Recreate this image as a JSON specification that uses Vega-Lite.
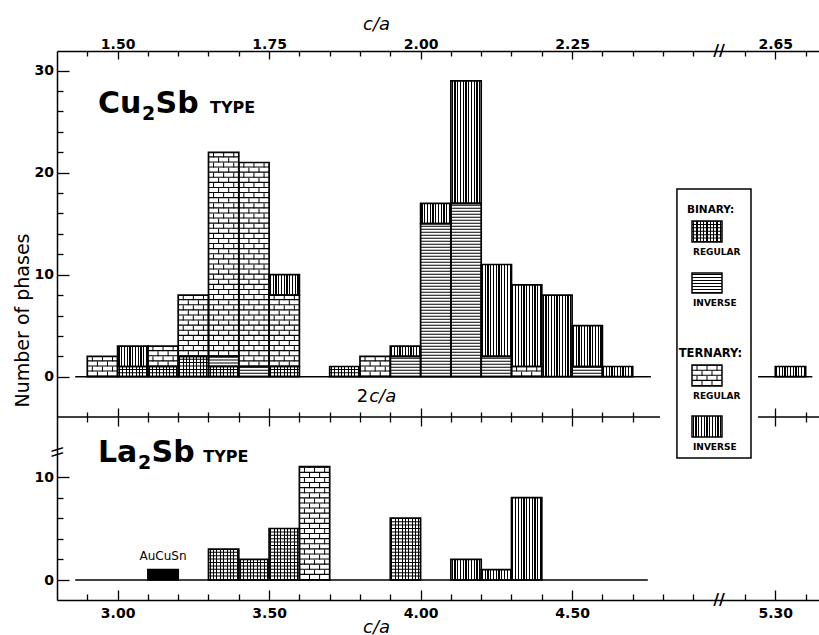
{
"$schema":"https://vega.github.io/schema/vega-lite/v6.json",
"autosize":{"type":"none"},
"padding":{"left":57,"top":51,"right":0,"bottom":35},
"width":762,"height":549,
"background":"white",
"config":{"view":{"stroke":null},"mark":{"color":"black"},"text":{"font":"DejaVu Sans","color":"black"},
"axis":{"labelFont":"DejaVu Sans","labelFontWeight":"bold","labelFontSize":14,"labelColor":"black","domainColor":"black","domainWidth":1.5,"tickColor":"black","tickWidth":1.3,"grid":false,"titleColor":"black"}},
"datasets":{
"one":[{"k":1}],
"phases":[
{"panel":"Cu2Sb","lo":2.9,"hi":3.0,"type":"ternary","form":"regular","n":2},
{"panel":"Cu2Sb","lo":3.0,"hi":3.1,"type":"binary","form":"regular","n":1},
{"panel":"Cu2Sb","lo":3.0,"hi":3.1,"type":"ternary","form":"inverse","n":2},
{"panel":"Cu2Sb","lo":3.1,"hi":3.2,"type":"binary","form":"regular","n":1},
{"panel":"Cu2Sb","lo":3.1,"hi":3.2,"type":"ternary","form":"regular","n":2},
{"panel":"Cu2Sb","lo":3.2,"hi":3.3,"type":"binary","form":"regular","n":2},
{"panel":"Cu2Sb","lo":3.2,"hi":3.3,"type":"ternary","form":"regular","n":6},
{"panel":"Cu2Sb","lo":3.3,"hi":3.4,"type":"binary","form":"regular","n":1},
{"panel":"Cu2Sb","lo":3.3,"hi":3.4,"type":"binary","form":"inverse","n":1},
{"panel":"Cu2Sb","lo":3.3,"hi":3.4,"type":"ternary","form":"regular","n":20},
{"panel":"Cu2Sb","lo":3.4,"hi":3.5,"type":"binary","form":"inverse","n":1},
{"panel":"Cu2Sb","lo":3.4,"hi":3.5,"type":"ternary","form":"regular","n":20},
{"panel":"Cu2Sb","lo":3.5,"hi":3.6,"type":"binary","form":"regular","n":1},
{"panel":"Cu2Sb","lo":3.5,"hi":3.6,"type":"ternary","form":"regular","n":7},
{"panel":"Cu2Sb","lo":3.5,"hi":3.6,"type":"ternary","form":"inverse","n":2},
{"panel":"Cu2Sb","lo":3.7,"hi":3.8,"type":"binary","form":"regular","n":1},
{"panel":"Cu2Sb","lo":3.8,"hi":3.9,"type":"ternary","form":"regular","n":2},
{"panel":"Cu2Sb","lo":3.9,"hi":4.0,"type":"binary","form":"inverse","n":2},
{"panel":"Cu2Sb","lo":3.9,"hi":4.0,"type":"ternary","form":"inverse","n":1},
{"panel":"Cu2Sb","lo":4.0,"hi":4.1,"type":"binary","form":"inverse","n":15},
{"panel":"Cu2Sb","lo":4.0,"hi":4.1,"type":"ternary","form":"inverse","n":2},
{"panel":"Cu2Sb","lo":4.1,"hi":4.2,"type":"binary","form":"inverse","n":17},
{"panel":"Cu2Sb","lo":4.1,"hi":4.2,"type":"ternary","form":"inverse","n":12},
{"panel":"Cu2Sb","lo":4.2,"hi":4.3,"type":"binary","form":"inverse","n":2},
{"panel":"Cu2Sb","lo":4.2,"hi":4.3,"type":"ternary","form":"inverse","n":9},
{"panel":"Cu2Sb","lo":4.3,"hi":4.4,"type":"ternary","form":"regular","n":1},
{"panel":"Cu2Sb","lo":4.3,"hi":4.4,"type":"ternary","form":"inverse","n":8},
{"panel":"Cu2Sb","lo":4.4,"hi":4.5,"type":"ternary","form":"inverse","n":8},
{"panel":"Cu2Sb","lo":4.5,"hi":4.6,"type":"binary","form":"inverse","n":1},
{"panel":"Cu2Sb","lo":4.5,"hi":4.6,"type":"ternary","form":"inverse","n":4},
{"panel":"Cu2Sb","lo":4.6,"hi":4.7,"type":"ternary","form":"inverse","n":1},
{"panel":"Cu2Sb","lo":5.3,"hi":5.4,"type":"ternary","form":"inverse","n":1},
{"panel":"La2Sb","lo":3.1,"hi":3.2,"type":"AuCuSn","form":"","n":1},
{"panel":"La2Sb","lo":3.3,"hi":3.4,"type":"binary","form":"regular","n":3},
{"panel":"La2Sb","lo":3.4,"hi":3.5,"type":"binary","form":"regular","n":2},
{"panel":"La2Sb","lo":3.5,"hi":3.6,"type":"binary","form":"regular","n":5},
{"panel":"La2Sb","lo":3.6,"hi":3.7,"type":"ternary","form":"regular","n":11},
{"panel":"La2Sb","lo":3.9,"hi":4.0,"type":"binary","form":"regular","n":6},
{"panel":"La2Sb","lo":4.1,"hi":4.2,"type":"ternary","form":"inverse","n":2},
{"panel":"La2Sb","lo":4.2,"hi":4.3,"type":"ternary","form":"inverse","n":1},
{"panel":"La2Sb","lo":4.3,"hi":4.4,"type":"ternary","form":"inverse","n":8}
]},
"resolve":{"scale":{"y":"independent"},"axis":{"x":"independent","y":"independent"}},
"layer":[
{
"resolve":{"axis":{"x":"independent","y":"independent"}},
"layer":[
{
"data":{"name":"phases"},
"transform":[{"filter":"datum.panel === 'Cu2Sb'"},{"stack":"n","groupby":["lo"],"sort":[{"field":"type","order":"ascending"},{"field":"form","order":"descending"}],"as":["y0","y1"]}],
"encoding":{
"x":{"field":"lo","type":"quantitative","scale":{"domain":[2.8,4.9,5.2,5.444],"range":[0,636.3,688,762],"nice":false,"zero":false},"axis":null},
"y":{"field":"y0","type":"quantitative","scale":{"domain":[-21.89,31.93],"nice":false,"zero":false},"axis":null}
},
"layer":[
{"transform":[{"filter":"datum.type === 'ternary' && datum.form === 'inverse'"}],"mark":{"type":"rect","fill":{"gradient":"linear","x1":0,"y1":0,"x2":1,"y2":0,"stops":[{"offset":0,"color":"#fff"},{"offset":0.0255,"color":"#fff"},{"offset":0.0255,"color":"#000"},{"offset":0.0655,"color":"#000"},{"offset":0.0655,"color":"#fff"},{"offset":0.1164,"color":"#fff"},{"offset":0.1164,"color":"#000"},{"offset":0.1564,"color":"#000"},{"offset":0.1564,"color":"#fff"},{"offset":0.2073,"color":"#fff"},{"offset":0.2073,"color":"#000"},{"offset":0.2473,"color":"#000"},{"offset":0.2473,"color":"#fff"},{"offset":0.2982,"color":"#fff"},{"offset":0.2982,"color":"#000"},{"offset":0.3382,"color":"#000"},{"offset":0.3382,"color":"#fff"},{"offset":0.3891,"color":"#fff"},{"offset":0.3891,"color":"#000"},{"offset":0.4291,"color":"#000"},{"offset":0.4291,"color":"#fff"},{"offset":0.48,"color":"#fff"},{"offset":0.48,"color":"#000"},{"offset":0.52,"color":"#000"},{"offset":0.52,"color":"#fff"},{"offset":0.5709,"color":"#fff"},{"offset":0.5709,"color":"#000"},{"offset":0.6109,"color":"#000"},{"offset":0.6109,"color":"#fff"},{"offset":0.6618,"color":"#fff"},{"offset":0.6618,"color":"#000"},{"offset":0.7018,"color":"#000"},{"offset":0.7018,"color":"#fff"},{"offset":0.7527,"color":"#fff"},{"offset":0.7527,"color":"#000"},{"offset":0.7927,"color":"#000"},{"offset":0.7927,"color":"#fff"},{"offset":0.8436,"color":"#fff"},{"offset":0.8436,"color":"#000"},{"offset":0.8836,"color":"#000"},{"offset":0.8836,"color":"#fff"},{"offset":0.9345,"color":"#fff"},{"offset":0.9345,"color":"#000"},{"offset":0.9745,"color":"#000"},{"offset":0.9745,"color":"#fff"},{"offset":1,"color":"#fff"}]}},"encoding":{"x2":{"field":"hi"},"y2":{"field":"y1"}}},
{"transform":[{"filter":"datum.type === 'binary' && datum.form === 'regular'"}],"mark":{"type":"rect","fill":{"gradient":"linear","x1":0,"y1":0,"x2":1,"y2":0,"stops":[{"offset":0,"color":"#fff"},{"offset":0.0386,"color":"#fff"},{"offset":0.0386,"color":"#000"},{"offset":0.0726,"color":"#000"},{"offset":0.0726,"color":"#fff"},{"offset":0.1497,"color":"#fff"},{"offset":0.1497,"color":"#000"},{"offset":0.1837,"color":"#000"},{"offset":0.1837,"color":"#fff"},{"offset":0.2608,"color":"#fff"},{"offset":0.2608,"color":"#000"},{"offset":0.2948,"color":"#000"},{"offset":0.2948,"color":"#fff"},{"offset":0.3719,"color":"#fff"},{"offset":0.3719,"color":"#000"},{"offset":0.4059,"color":"#000"},{"offset":0.4059,"color":"#fff"},{"offset":0.483,"color":"#fff"},{"offset":0.483,"color":"#000"},{"offset":0.517,"color":"#000"},{"offset":0.517,"color":"#fff"},{"offset":0.5941,"color":"#fff"},{"offset":0.5941,"color":"#000"},{"offset":0.6281,"color":"#000"},{"offset":0.6281,"color":"#fff"},{"offset":0.7052,"color":"#fff"},{"offset":0.7052,"color":"#000"},{"offset":0.7392,"color":"#000"},{"offset":0.7392,"color":"#fff"},{"offset":0.8163,"color":"#fff"},{"offset":0.8163,"color":"#000"},{"offset":0.8503,"color":"#000"},{"offset":0.8503,"color":"#fff"},{"offset":0.9274,"color":"#fff"},{"offset":0.9274,"color":"#000"},{"offset":0.9614,"color":"#000"},{"offset":0.9614,"color":"#fff"},{"offset":1,"color":"#fff"}]}},"encoding":{"x2":{"field":"hi"},"y2":{"field":"y1"}}},
{"transform":[{"filter":"datum.type === 'binary' && datum.form === 'regular'"}],"mark":{"type":"rule","color":"black","strokeWidth":30.3,"xOffset":15.15,"strokeDash":[1,2.4]},"encoding":{"y2":{"field":"y1"}}},
{"transform":[{"filter":"datum.type === 'binary' && datum.form === 'inverse'"}],"mark":{"type":"rule","color":"black","strokeWidth":30.3,"xOffset":15.15,"strokeDash":[1,2]},"encoding":{"y2":{"field":"y1"}}},
{"transform":[{"filter":"datum.type === 'ternary' && datum.form === 'regular'"}],"mark":{"type":"rule","color":"black","strokeWidth":30.3,"xOffset":15.15,"strokeDash":[1.1,4]},"encoding":{"y2":{"field":"y1"}}},
{"transform":[{"filter":"datum.type === 'ternary' && datum.form === 'regular'"}],"mark":{"type":"rule","color":"black","strokeWidth":1,"xOffset":10.1,"strokeDash":[5.1,5.1]},"encoding":{"y2":{"field":"y1"}}},
{"transform":[{"filter":"datum.type === 'ternary' && datum.form === 'regular'"}],"mark":{"type":"rule","color":"black","strokeWidth":1,"xOffset":20.2,"strokeDash":[5.1,5.1]},"encoding":{"y2":{"field":"y1"}}},
{"transform":[{"filter":"datum.type === 'ternary' && datum.form === 'regular'"}],"mark":{"type":"rule","color":"black","strokeWidth":1,"xOffset":5.05,"strokeDash":[5.1,5.1],"strokeDashOffset":5.1},"encoding":{"y2":{"field":"y1"}}},
{"transform":[{"filter":"datum.type === 'ternary' && datum.form === 'regular'"}],"mark":{"type":"rule","color":"black","strokeWidth":1,"xOffset":15.15,"strokeDash":[5.1,5.1],"strokeDashOffset":5.1},"encoding":{"y2":{"field":"y1"}}},
{"transform":[{"filter":"datum.type === 'ternary' && datum.form === 'regular'"}],"mark":{"type":"rule","color":"black","strokeWidth":1,"xOffset":25.25,"strokeDash":[5.1,5.1],"strokeDashOffset":5.1},"encoding":{"y2":{"field":"y1"}}},
{"mark":{"type":"rect","filled":false,"stroke":"black","strokeWidth":1.7},"encoding":{"x2":{"field":"hi"},"y2":{"field":"y1"}}}
]
},
{"data":{"name":"one"},"mark":{"type":"rule","strokeWidth":1.5},"encoding":{
"x":{"datum":2.86,"type":"quantitative","scale":{"domain":[2.8,4.9,5.2,5.444],"range":[0,636.3,688,762],"nice":false,"zero":false},"axis":{"orient":"top","values":[2.9,3,3.1,3.2,3.3,3.4,3.5,3.6,3.7,3.8,3.9,4,4.1,4.2,4.3,4.4,4.5,4.6,4.7,4.8,4.9,5.2,5.3,5.4],"labelExpr":"indexof([3,3.5,4,4.5,5.3], datum.value) >= 0 ? format(datum.value / 2, '.2f') : ''","tickSize":{"condition":{"test":"indexof([3,3.5,4,4.5,5.3], datum.value) >= 0","value":-8},"value":-5},"labelBaseline":"alphabetic","labelPadding":10.4,"labelFlush":false,"labelOverlap":false,"labelBound":false,"title":"c/a","titleFont":"DejaVu Sans","titleFontStyle":"italic","titleFontWeight":"normal","titleFontSize":18,"titleX":319,"titleY":-22,"titleAlign":"center","titleBaseline":"alphabetic","titleAngle":0}},
"x2":{"datum":4.76},
"y":{"datum":0,"type":"quantitative","scale":{"domain":[-21.89,31.93],"nice":false,"zero":false},"axis":{"orient":"left","values":[0,2,4,6,8,10,12,14,16,18,20,22,24,26,28,30],"labelExpr":"datum.value % 10 === 0 ? datum.label : ''","tickSize":{"condition":{"test":"datum.value % 10 === 0","value":-12},"value":-6},"labelPadding":15.4,"title":"Number of phases","titleFont":"DejaVu Sans","titleFontWeight":"normal","titleFontSize":19,"titleX":-29,"titleY":269,"titleAngle":-90,"titleAlign":"center","titleBaseline":"alphabetic"}}}},
{"data":{"name":"one"},"mark":{"type":"rule","strokeWidth":1.5},"encoding":{"x":{"datum":5.243,"axis":null},"x2":{"datum":5.422},"y":{"datum":0,"axis":null}}},
{"data":{"name":"one"},"mark":{"type":"rule","strokeWidth":1.5},"encoding":{
"x":{"datum":2.8,"type":"quantitative","axis":{"orient":"bottom","offset":-183,"values":[2.9,3,3.1,3.2,3.3,3.4,3.5,3.6,3.7,3.8,3.9,4,4.1,4.2,4.3,4.4,4.5,4.6,4.7,5.3,5.4],"labels":false,"domain":false,"tickSize":{"condition":{"test":"indexof([3,3.5,4,4.5,5.3], datum.value) >= 0","value":-9},"value":-5},"title":null}},
"x2":{"datum":4.79},"y":{"datum":-3.95,"axis":null}}},
{"data":{"name":"one"},"mark":{"type":"rule","strokeWidth":1.5},"encoding":{"x":{"datum":5.243,"axis":null},"x2":{"datum":5.444},"y":{"datum":-3.95,"axis":null}}},
{"data":{"name":"one"},"mark":{"type":"text","text":"Cu","fontWeight":"bold","fontSize":30,"align":"left","baseline":"alphabetic"},"encoding":{"x":{"datum":2.9353,"axis":null},"y":{"datum":25.9,"axis":null}}},
{"data":{"name":"one"},"mark":{"type":"text","text":"2","fontWeight":"bold","fontSize":19,"align":"left","baseline":"alphabetic","dx":44,"dy":7},"encoding":{"x":{"datum":2.9353,"axis":null},"y":{"datum":25.9,"axis":null}}},
{"data":{"name":"one"},"mark":{"type":"text","text":"Sb","fontWeight":"bold","fontSize":30,"align":"left","baseline":"alphabetic","dx":57.6},"encoding":{"x":{"datum":2.9353,"axis":null},"y":{"datum":25.9,"axis":null}}},
{"data":{"name":"one"},"mark":{"type":"text","text":"TYPE","fontWeight":"bold","fontSize":16,"align":"left","baseline":"alphabetic"},"encoding":{"x":{"datum":3.305,"axis":null},"y":{"datum":25.9,"axis":null}}},
{"data":{"name":"one"},"mark":{"type":"text","text":"2","fontSize":18,"align":"right","baseline":"alphabetic"},"encoding":{"x":{"datum":3.827,"axis":null},"y":{"datum":-2.48,"axis":null}}},
{"data":{"name":"one"},"mark":{"type":"text","text":"c/a","fontStyle":"italic","fontSize":18,"align":"left","baseline":"alphabetic","dx":1},"encoding":{"x":{"datum":3.827,"axis":null},"y":{"datum":-2.48,"axis":null}}},
{"data":{"name":"one"},"mark":{"type":"text","text":"//","fontWeight":"bold","fontSize":16,"align":"center","baseline":"middle"},"encoding":{"x":{"datum":5.049,"axis":null},"y":{"datum":31.93,"axis":null}}}
]
},
{
"resolve":{"axis":{"x":"independent","y":"independent"}},
"layer":[
{
"data":{"name":"phases"},
"transform":[{"filter":"datum.panel === 'La2Sb'"},{"stack":"n","groupby":["lo"],"sort":[{"field":"type","order":"ascending"},{"field":"form","order":"descending"}],"as":["y0","y1"]}],
"encoding":{
"x":{"field":"lo","type":"quantitative","scale":{"domain":[2.8,4.9,5.2,5.444],"range":[0,636.3,688,762],"nice":false,"zero":false},"axis":null},
"y":{"field":"y0","type":"quantitative","scale":{"domain":[-1.94,51.36],"nice":false,"zero":false},"axis":null}
},
"layer":[
{"transform":[{"filter":"datum.type === 'ternary' && datum.form === 'inverse'"}],"mark":{"type":"rect","fill":{"gradient":"linear","x1":0,"y1":0,"x2":1,"y2":0,"stops":[{"offset":0,"color":"#fff"},{"offset":0.0255,"color":"#fff"},{"offset":0.0255,"color":"#000"},{"offset":0.0655,"color":"#000"},{"offset":0.0655,"color":"#fff"},{"offset":0.1164,"color":"#fff"},{"offset":0.1164,"color":"#000"},{"offset":0.1564,"color":"#000"},{"offset":0.1564,"color":"#fff"},{"offset":0.2073,"color":"#fff"},{"offset":0.2073,"color":"#000"},{"offset":0.2473,"color":"#000"},{"offset":0.2473,"color":"#fff"},{"offset":0.2982,"color":"#fff"},{"offset":0.2982,"color":"#000"},{"offset":0.3382,"color":"#000"},{"offset":0.3382,"color":"#fff"},{"offset":0.3891,"color":"#fff"},{"offset":0.3891,"color":"#000"},{"offset":0.4291,"color":"#000"},{"offset":0.4291,"color":"#fff"},{"offset":0.48,"color":"#fff"},{"offset":0.48,"color":"#000"},{"offset":0.52,"color":"#000"},{"offset":0.52,"color":"#fff"},{"offset":0.5709,"color":"#fff"},{"offset":0.5709,"color":"#000"},{"offset":0.6109,"color":"#000"},{"offset":0.6109,"color":"#fff"},{"offset":0.6618,"color":"#fff"},{"offset":0.6618,"color":"#000"},{"offset":0.7018,"color":"#000"},{"offset":0.7018,"color":"#fff"},{"offset":0.7527,"color":"#fff"},{"offset":0.7527,"color":"#000"},{"offset":0.7927,"color":"#000"},{"offset":0.7927,"color":"#fff"},{"offset":0.8436,"color":"#fff"},{"offset":0.8436,"color":"#000"},{"offset":0.8836,"color":"#000"},{"offset":0.8836,"color":"#fff"},{"offset":0.9345,"color":"#fff"},{"offset":0.9345,"color":"#000"},{"offset":0.9745,"color":"#000"},{"offset":0.9745,"color":"#fff"},{"offset":1,"color":"#fff"}]}},"encoding":{"x2":{"field":"hi"},"y2":{"field":"y1"}}},
{"transform":[{"filter":"datum.type === 'binary' && datum.form === 'regular'"}],"mark":{"type":"rect","fill":{"gradient":"linear","x1":0,"y1":0,"x2":1,"y2":0,"stops":[{"offset":0,"color":"#fff"},{"offset":0.0386,"color":"#fff"},{"offset":0.0386,"color":"#000"},{"offset":0.0726,"color":"#000"},{"offset":0.0726,"color":"#fff"},{"offset":0.1497,"color":"#fff"},{"offset":0.1497,"color":"#000"},{"offset":0.1837,"color":"#000"},{"offset":0.1837,"color":"#fff"},{"offset":0.2608,"color":"#fff"},{"offset":0.2608,"color":"#000"},{"offset":0.2948,"color":"#000"},{"offset":0.2948,"color":"#fff"},{"offset":0.3719,"color":"#fff"},{"offset":0.3719,"color":"#000"},{"offset":0.4059,"color":"#000"},{"offset":0.4059,"color":"#fff"},{"offset":0.483,"color":"#fff"},{"offset":0.483,"color":"#000"},{"offset":0.517,"color":"#000"},{"offset":0.517,"color":"#fff"},{"offset":0.5941,"color":"#fff"},{"offset":0.5941,"color":"#000"},{"offset":0.6281,"color":"#000"},{"offset":0.6281,"color":"#fff"},{"offset":0.7052,"color":"#fff"},{"offset":0.7052,"color":"#000"},{"offset":0.7392,"color":"#000"},{"offset":0.7392,"color":"#fff"},{"offset":0.8163,"color":"#fff"},{"offset":0.8163,"color":"#000"},{"offset":0.8503,"color":"#000"},{"offset":0.8503,"color":"#fff"},{"offset":0.9274,"color":"#fff"},{"offset":0.9274,"color":"#000"},{"offset":0.9614,"color":"#000"},{"offset":0.9614,"color":"#fff"},{"offset":1,"color":"#fff"}]}},"encoding":{"x2":{"field":"hi"},"y2":{"field":"y1"}}},
{"transform":[{"filter":"datum.type === 'binary' && datum.form === 'regular'"}],"mark":{"type":"rule","color":"black","strokeWidth":30.3,"xOffset":15.15,"strokeDash":[1,2.4]},"encoding":{"y2":{"field":"y1"}}},
{"transform":[{"filter":"datum.type === 'ternary' && datum.form === 'regular'"}],"mark":{"type":"rule","color":"black","strokeWidth":30.3,"xOffset":15.15,"strokeDash":[1.1,4]},"encoding":{"y2":{"field":"y1"}}},
{"transform":[{"filter":"datum.type === 'ternary' && datum.form === 'regular'"}],"mark":{"type":"rule","color":"black","strokeWidth":1,"xOffset":10.1,"strokeDash":[5.1,5.1]},"encoding":{"y2":{"field":"y1"}}},
{"transform":[{"filter":"datum.type === 'ternary' && datum.form === 'regular'"}],"mark":{"type":"rule","color":"black","strokeWidth":1,"xOffset":20.2,"strokeDash":[5.1,5.1]},"encoding":{"y2":{"field":"y1"}}},
{"transform":[{"filter":"datum.type === 'ternary' && datum.form === 'regular'"}],"mark":{"type":"rule","color":"black","strokeWidth":1,"xOffset":5.05,"strokeDash":[5.1,5.1],"strokeDashOffset":5.1},"encoding":{"y2":{"field":"y1"}}},
{"transform":[{"filter":"datum.type === 'ternary' && datum.form === 'regular'"}],"mark":{"type":"rule","color":"black","strokeWidth":1,"xOffset":15.15,"strokeDash":[5.1,5.1],"strokeDashOffset":5.1},"encoding":{"y2":{"field":"y1"}}},
{"transform":[{"filter":"datum.type === 'ternary' && datum.form === 'regular'"}],"mark":{"type":"rule","color":"black","strokeWidth":1,"xOffset":25.25,"strokeDash":[5.1,5.1],"strokeDashOffset":5.1},"encoding":{"y2":{"field":"y1"}}},
{"transform":[{"filter":"datum.type === 'AuCuSn'"}],"mark":{"type":"rect","fill":"black"},"encoding":{"x2":{"field":"hi"},"y2":{"field":"y1"}}},
{"mark":{"type":"rect","filled":false,"stroke":"black","strokeWidth":1.7},"encoding":{"x2":{"field":"hi"},"y2":{"field":"y1"}}}
]
},
{"data":{"name":"one"},"mark":{"type":"rule","strokeWidth":1.5},"encoding":{
"x":{"datum":2.86,"type":"quantitative","scale":{"domain":[2.8,4.9,5.2,5.444],"range":[0,636.3,688,762],"nice":false,"zero":false},"axis":{"orient":"bottom","values":[2.9,3,3.1,3.2,3.3,3.4,3.5,3.6,3.7,3.8,3.9,4,4.1,4.2,4.3,4.4,4.5,4.6,4.7,4.8,4.9,5.2,5.3,5.4],"labelExpr":"indexof([3,3.5,4,4.5,5.3], datum.value) >= 0 ? format(datum.value, '.2f') : ''","tickSize":{"condition":{"test":"indexof([3,3.5,4,4.5,5.3], datum.value) >= 0","value":-10},"value":-6},"labelPadding":16,"labelFlush":false,"labelOverlap":false,"labelBound":false,"title":"c/a","titleFont":"DejaVu Sans","titleFontStyle":"italic","titleFontWeight":"normal","titleFontSize":18,"titleX":319,"titleY":32,"titleAlign":"center","titleBaseline":"alphabetic"}},
"x2":{"datum":4.75},
"y":{"datum":0,"type":"quantitative","scale":{"domain":[-1.94,51.36],"nice":false,"zero":false},"axis":{"orient":"left","values":[0,2,4,6,8,10],"domain":false,"labelExpr":"datum.value % 10 === 0 ? datum.label : ''","tickSize":{"condition":{"test":"datum.value % 10 === 0","value":-12},"value":-6},"labelPadding":15.4,"title":null}}}},
{"data":{"name":"one"},"mark":{"type":"rect","fill":"white","stroke":"black","strokeWidth":1.5},"encoding":{
"x":{"datum":4.846,"type":"quantitative","axis":{"orient":"bottom","offset":-183,"values":[2.9,3,3.1,3.2,3.3,3.4,3.5,3.6,3.7,3.8,3.9,4,4.1,4.2,4.3,4.4,4.5,4.6,4.7,5.3,5.4],"labels":false,"domain":false,"tickSize":{"condition":{"test":"indexof([3,3.5,4,4.5,5.3], datum.value) >= 0","value":9},"value":5},"title":null}},
"x2":{"datum":5.2198},"y":{"datum":37.96,"axis":null},"y2":{"datum":11.84}}},
{"data":{"name":"one"},"mark":{"type":"rect","fill":{"gradient":"linear","x1":0,"y1":0,"x2":1,"y2":0,"stops":[{"offset":0,"color":"#fff"},{"offset":0.0386,"color":"#fff"},{"offset":0.0386,"color":"#000"},{"offset":0.0726,"color":"#000"},{"offset":0.0726,"color":"#fff"},{"offset":0.1497,"color":"#fff"},{"offset":0.1497,"color":"#000"},{"offset":0.1837,"color":"#000"},{"offset":0.1837,"color":"#fff"},{"offset":0.2608,"color":"#fff"},{"offset":0.2608,"color":"#000"},{"offset":0.2948,"color":"#000"},{"offset":0.2948,"color":"#fff"},{"offset":0.3719,"color":"#fff"},{"offset":0.3719,"color":"#000"},{"offset":0.4059,"color":"#000"},{"offset":0.4059,"color":"#fff"},{"offset":0.483,"color":"#fff"},{"offset":0.483,"color":"#000"},{"offset":0.517,"color":"#000"},{"offset":0.517,"color":"#fff"},{"offset":0.5941,"color":"#fff"},{"offset":0.5941,"color":"#000"},{"offset":0.6281,"color":"#000"},{"offset":0.6281,"color":"#fff"},{"offset":0.7052,"color":"#fff"},{"offset":0.7052,"color":"#000"},{"offset":0.7392,"color":"#000"},{"offset":0.7392,"color":"#fff"},{"offset":0.8163,"color":"#fff"},{"offset":0.8163,"color":"#000"},{"offset":0.8503,"color":"#000"},{"offset":0.8503,"color":"#fff"},{"offset":0.9274,"color":"#fff"},{"offset":0.9274,"color":"#000"},{"offset":0.9614,"color":"#000"},{"offset":0.9614,"color":"#fff"},{"offset":1,"color":"#fff"}]}},"encoding":{"x":{"datum":4.8957,"axis":null},"x2":{"datum":5.0665},"y":{"datum":32.82,"axis":null},"y2":{"datum":34.85}}},
{"data":{"name":"one"},"mark":{"type":"rule","color":"black","strokeWidth":30,"xOffset":15,"strokeDash":[1,2.4]},"encoding":{"x":{"datum":4.8957,"axis":null},"y":{"datum":32.82,"axis":null},"y2":{"datum":34.85}}},
{"data":{"name":"one"},"mark":{"type":"rule","color":"black","strokeWidth":30,"xOffset":15,"strokeDash":[1,2]},"encoding":{"x":{"datum":4.8957,"axis":null},"y":{"datum":27.86,"axis":null},"y2":{"datum":29.81}}},
{"data":{"name":"one"},"mark":{"type":"rule","color":"black","strokeWidth":30,"xOffset":15,"strokeDash":[1.1,4]},"encoding":{"x":{"datum":4.8957,"axis":null},"y":{"datum":18.83,"axis":null},"y2":{"datum":20.87}}},
{"data":{"name":"one"},"mark":{"type":"rule","color":"black","strokeWidth":1,"xOffset":10,"strokeDash":[5.1,5.1]},"encoding":{"x":{"datum":4.8957,"axis":null},"y":{"datum":18.83,"axis":null},"y2":{"datum":20.87}}},
{"data":{"name":"one"},"mark":{"type":"rule","color":"black","strokeWidth":1,"xOffset":20,"strokeDash":[5.1,5.1]},"encoding":{"x":{"datum":4.8957,"axis":null},"y":{"datum":18.83,"axis":null},"y2":{"datum":20.87}}},
{"data":{"name":"one"},"mark":{"type":"rule","color":"black","strokeWidth":1,"xOffset":5,"strokeDash":[5.1,5.1],"strokeDashOffset":5.1},"encoding":{"x":{"datum":4.8957,"axis":null},"y":{"datum":18.83,"axis":null},"y2":{"datum":20.87}}},
{"data":{"name":"one"},"mark":{"type":"rule","color":"black","strokeWidth":1,"xOffset":15,"strokeDash":[5.1,5.1],"strokeDashOffset":5.1},"encoding":{"x":{"datum":4.8957,"axis":null},"y":{"datum":18.83,"axis":null},"y2":{"datum":20.87}}},
{"data":{"name":"one"},"mark":{"type":"rule","color":"black","strokeWidth":1,"xOffset":25,"strokeDash":[5.1,5.1],"strokeDashOffset":5.1},"encoding":{"x":{"datum":4.8957,"axis":null},"y":{"datum":18.83,"axis":null},"y2":{"datum":20.87}}},
{"data":{"name":"one"},"mark":{"type":"rect","fill":{"gradient":"linear","x1":0,"y1":0,"x2":1,"y2":0,"stops":[{"offset":0,"color":"#fff"},{"offset":0.0255,"color":"#fff"},{"offset":0.0255,"color":"#000"},{"offset":0.0655,"color":"#000"},{"offset":0.0655,"color":"#fff"},{"offset":0.1164,"color":"#fff"},{"offset":0.1164,"color":"#000"},{"offset":0.1564,"color":"#000"},{"offset":0.1564,"color":"#fff"},{"offset":0.2073,"color":"#fff"},{"offset":0.2073,"color":"#000"},{"offset":0.2473,"color":"#000"},{"offset":0.2473,"color":"#fff"},{"offset":0.2982,"color":"#fff"},{"offset":0.2982,"color":"#000"},{"offset":0.3382,"color":"#000"},{"offset":0.3382,"color":"#fff"},{"offset":0.3891,"color":"#fff"},{"offset":0.3891,"color":"#000"},{"offset":0.4291,"color":"#000"},{"offset":0.4291,"color":"#fff"},{"offset":0.48,"color":"#fff"},{"offset":0.48,"color":"#000"},{"offset":0.52,"color":"#000"},{"offset":0.52,"color":"#fff"},{"offset":0.5709,"color":"#fff"},{"offset":0.5709,"color":"#000"},{"offset":0.6109,"color":"#000"},{"offset":0.6109,"color":"#fff"},{"offset":0.6618,"color":"#fff"},{"offset":0.6618,"color":"#000"},{"offset":0.7018,"color":"#000"},{"offset":0.7018,"color":"#fff"},{"offset":0.7527,"color":"#fff"},{"offset":0.7527,"color":"#000"},{"offset":0.7927,"color":"#000"},{"offset":0.7927,"color":"#fff"},{"offset":0.8436,"color":"#fff"},{"offset":0.8436,"color":"#000"},{"offset":0.8836,"color":"#000"},{"offset":0.8836,"color":"#fff"},{"offset":0.9345,"color":"#fff"},{"offset":0.9345,"color":"#000"},{"offset":0.9745,"color":"#000"},{"offset":0.9745,"color":"#fff"},{"offset":1,"color":"#fff"}]}},"encoding":{"x":{"datum":4.8957,"axis":null},"x2":{"datum":5.0665},"y":{"datum":13.88,"axis":null},"y2":{"datum":15.92}}},
{"data":{"name":"one"},"mark":{"type":"rect","filled":false,"stroke":"black","strokeWidth":1.5},"encoding":{"x":{"datum":4.8957,"axis":null},"x2":{"datum":5.0665},"y":{"datum":32.82,"axis":null},"y2":{"datum":34.85}}},
{"data":{"name":"one"},"mark":{"type":"rect","filled":false,"stroke":"black","strokeWidth":1.5},"encoding":{"x":{"datum":4.8957,"axis":null},"x2":{"datum":5.0665},"y":{"datum":27.86,"axis":null},"y2":{"datum":29.81}}},
{"data":{"name":"one"},"mark":{"type":"rect","filled":false,"stroke":"black","strokeWidth":1.5},"encoding":{"x":{"datum":4.8957,"axis":null},"x2":{"datum":5.0665},"y":{"datum":18.83,"axis":null},"y2":{"datum":20.87}}},
{"data":{"name":"one"},"mark":{"type":"rect","filled":false,"stroke":"black","strokeWidth":1.5},"encoding":{"x":{"datum":4.8957,"axis":null},"x2":{"datum":5.0665},"y":{"datum":13.88,"axis":null},"y2":{"datum":15.92}}},
{"data":{"name":"one"},"mark":{"type":"text","text":"BINARY:","fontWeight":"bold","fontSize":10.5,"align":"left","baseline":"alphabetic"},"encoding":{"x":{"datum":4.879,"axis":null},"y":{"datum":35.63,"axis":null}}},
{"data":{"name":"one"},"mark":{"type":"text","text":"REGULAR","fontWeight":"bold","fontSize":9,"align":"left","baseline":"alphabetic"},"encoding":{"x":{"datum":4.899,"axis":null},"y":{"datum":31.55,"axis":null}}},
{"data":{"name":"one"},"mark":{"type":"text","text":"INVERSE","fontWeight":"bold","fontSize":9,"align":"left","baseline":"alphabetic"},"encoding":{"x":{"datum":4.899,"axis":null},"y":{"datum":26.6,"axis":null}}},
{"data":{"name":"one"},"mark":{"type":"text","text":"TERNARY:","fontWeight":"bold","fontSize":11.5,"align":"left","baseline":"alphabetic"},"encoding":{"x":{"datum":4.852,"axis":null},"y":{"datum":21.65,"axis":null}}},
{"data":{"name":"one"},"mark":{"type":"text","text":"REGULAR","fontWeight":"bold","fontSize":9,"align":"left","baseline":"alphabetic"},"encoding":{"x":{"datum":4.899,"axis":null},"y":{"datum":17.57,"axis":null}}},
{"data":{"name":"one"},"mark":{"type":"text","text":"INVERSE","fontWeight":"bold","fontSize":9,"align":"left","baseline":"alphabetic"},"encoding":{"x":{"datum":4.899,"axis":null},"y":{"datum":12.62,"axis":null}}},
{"data":{"name":"one"},"mark":{"type":"text","text":"La","fontWeight":"bold","fontSize":30,"align":"left","baseline":"alphabetic"},"encoding":{"x":{"datum":2.9353,"axis":null},"y":{"datum":11.46,"axis":null}}},
{"data":{"name":"one"},"mark":{"type":"text","text":"2","fontWeight":"bold","fontSize":19,"align":"left","baseline":"alphabetic","dx":40,"dy":7},"encoding":{"x":{"datum":2.9353,"axis":null},"y":{"datum":11.46,"axis":null}}},
{"data":{"name":"one"},"mark":{"type":"text","text":"Sb","fontWeight":"bold","fontSize":30,"align":"left","baseline":"alphabetic","dx":53.6},"encoding":{"x":{"datum":2.9353,"axis":null},"y":{"datum":11.46,"axis":null}}},
{"data":{"name":"one"},"mark":{"type":"text","text":"TYPE","fontWeight":"bold","fontSize":16,"align":"left","baseline":"alphabetic"},"encoding":{"x":{"datum":3.283,"axis":null},"y":{"datum":11.46,"axis":null}}},
{"data":{"name":"one"},"mark":{"type":"text","text":"AuCuSn","fontSize":12,"align":"center","baseline":"alphabetic"},"encoding":{"x":{"datum":3.15,"axis":null},"y":{"datum":1.94,"axis":null}}},
{"data":{"name":"one"},"mark":{"type":"text","text":"//","fontWeight":"bold","fontSize":16,"align":"center","baseline":"middle"},"encoding":{"x":{"datum":5.049,"axis":null},"y":{"datum":-1.94,"axis":null}}},
{"data":{"name":"one"},"mark":{"type":"text","text":"\\\\","fontWeight":"bold","fontSize":14,"align":"center","baseline":"middle","angle":90},"encoding":{"x":{"datum":2.8,"axis":null},"y":{"datum":12.43,"axis":null}}}
]
}
]
}
